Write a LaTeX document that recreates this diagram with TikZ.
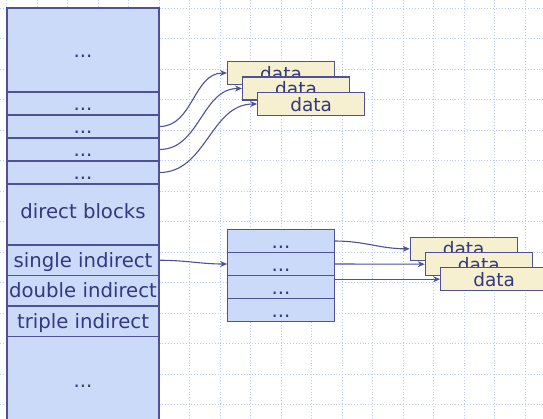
\documentclass[tikz,border=0pt]{standalone}
\usepackage{fontspec}
\setmainfont{DejaVu Sans}
\usetikzlibrary{arrows.meta}
\definecolor{cellfill}{RGB}{204,218,250}
\definecolor{datafill}{RGB}{247,240,208}
\definecolor{edge}{RGB}{78,82,148}
\definecolor{ink}{RGB}{52,56,126}
\definecolor{gridblue}{RGB}{190,202,250}

\begin{document}
\begin{tikzpicture}[x=1pt, y=-1pt,
    cell/.style={rectangle, draw=edge, fill=cellfill, line width=1.1pt, inner sep=0pt, minimum width=152pt, text=ink, font=\fontsize{19.7}{22}\selectfont, text height=14pt, text depth=0pt},
    ptr/.style={cell, minimum width=106.6pt, minimum height=23pt},
    datablk/.style={rectangle, draw=edge, fill=datafill, line width=1.1pt, inner sep=0pt, minimum width=107pt, minimum height=23pt, text=ink, font=\fontsize{18.5}{21}\selectfont, text height=14pt, text depth=0pt},
    link/.style={-{Stealth[length=7pt,width=6pt]}, draw=edge, line width=1.1pt},
    gridline/.style={draw=gridblue, dotted, line width=0.9pt}
]
    \useasboundingbox (0,0) rectangle (543,418);
    \clip (0,0) rectangle (543,418);

    % Background grid
    \foreach \gx in {0,...,17}
        \draw[gridline] ({6.5+30.5*\gx},0) -- ({6.5+30.5*\gx},418);
    \foreach \gy in {0,...,13}
        \draw[gridline] (0,{8+30.5*\gy}) -- (543,{8+30.5*\gy});

    % Inode column
    \node[cell, minimum height=84pt] (r0) at (83,50) {...};
    \node[cell, minimum height=23pt] (r1) at (83,103.5) {...};
    \node[cell, minimum height=23pt] (r2) at (83,126.5) {...};
    \node[cell, minimum height=23pt] (r3) at (83,149.5) {...};
    \node[cell, minimum height=23pt] (r4) at (83,172.5) {...};
    \node[cell, minimum height=61pt, text depth=7pt] (direct) at (83,214.5) {direct blocks};
    \node[cell, minimum height=30.5pt] (single) at (83,260.25) {single indirect};
    \node[cell, minimum height=30.5pt] (double) at (83,290.75) {double indirect};
    \node[cell, minimum height=30.5pt] (triple) at (83,321.25) {triple indirect};
    \node[cell, minimum height=88pt] (rest) at (83,380.5) {...};

    % Indirect block
    \node[ptr] (m1) at (281,241) {...};
    \node[ptr] (m2) at (281,264) {...};
    \node[ptr] (m3) at (281,287) {...};
    \node[ptr] (m4) at (281,310) {...};

    % Data blocks
    \node[datablk] (d1) at (281,73) {data};
    \node[datablk] (d2) at (296,88.5) {data};
    \node[datablk] (d3) at (311.2,104) {data};
    \node[datablk] (e1) at (463.7,248.8) {data};
    \node[datablk] (e2) at (478.8,264.2) {data};
    \node[datablk] (e3) at (494.2,279.2) {data};

    % Arrows
    \draw[link] (r2.east) to[out=0, in=180] (d1.west);
    \draw[link] (r3.east) to[out=0, in=180] (d2.west);
    \draw[link] (r4.east) to[out=0, in=180] (d3.west);
    \draw[link] (single.east) to[out=0, in=180] (m2.west);
    \draw[link] (m1.east) to[out=0, in=180] (e1.west);
    \draw[link] (m2.east) -- (e2.west);
    \draw[link] (e3.west -| m3.east) -- (e3.west);
\end{tikzpicture}
\end{document}
